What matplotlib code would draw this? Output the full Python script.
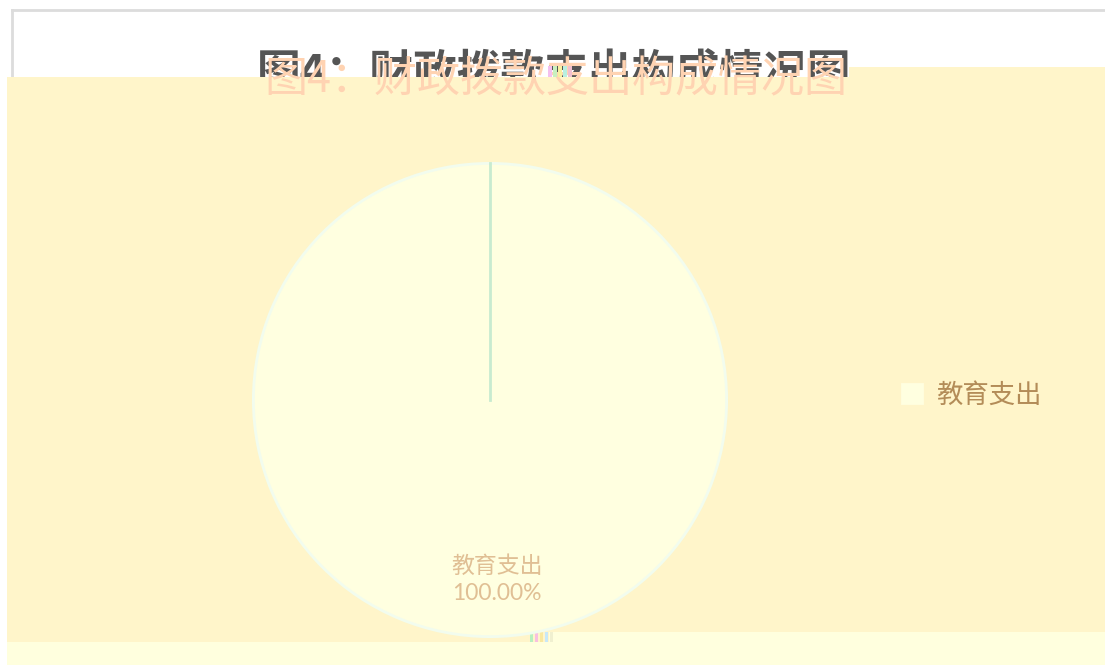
import matplotlib
matplotlib.use("Agg")
import matplotlib.pyplot as plt
from matplotlib.patches import Rectangle

plt.rcParams['font.family'] = ['Noto Sans CJK SC', 'DejaVu Sans']

# ---- data ----
title = "图4：财政拨款支出构成情况图"
categories = ["教育支出"]
values = [100.0]

W, H = 1105, 665
fig = plt.figure(figsize=(W / 100, H / 100), dpi=100)
fig.patch.set_facecolor("white")

bg = fig.add_axes([0, 0, 1, 1])
bg.set_xlim(0, W)
bg.set_ylim(H, 0)
bg.axis("off")

# frame border (light gray)
bg.plot([12, W], [10, 10], color="#dcdcdc", lw=2, zorder=1)
bg.plot([12, 12], [10, 78], color="#dcdcdc", lw=2, zorder=1)

# dark title (partially covered)
bg.text(554, 73, title, ha="center", va="center", fontsize=31.5,
        fontweight="bold", color="#555555", zorder=2)

# yellow overlay areas
bg.add_patch(Rectangle((7, 77), 843, 570, facecolor="#FFF5CA", edgecolor="none", zorder=3))
bg.add_patch(Rectangle((849, 67), W - 849, 580, facecolor="#FFF5CA", edgecolor="none", zorder=3))
# bottom light band
bg.add_patch(Rectangle((7, 642), 543, 30, facecolor="#FFFFDE", edgecolor="none", zorder=3))
bg.add_patch(Rectangle((549, 632), W - 549, 40, facecolor="#FFFFDE", edgecolor="none", zorder=3))

# faded title copy
bg.text(556, 80, title, ha="center", va="center", fontsize=31,
        fontweight="light", color="#FFD3B2", zorder=4)

# small glitch stripes
for x0, c in [(548, "#f4c0f0"), (553, "#c8f0c0"), (558, "#f8f0a0"), (563, "#b8f0e0"), (568, "#f0c0d0")]:
    bg.add_patch(Rectangle((x0, 66), 4, 11, facecolor=c, edgecolor="none", zorder=5))
for x0, c in [(530, "#b8f0c0"), (535, "#f8c0e0"), (540, "#f8e8a0"), (545, "#c8e8f8"), (550, "#f0f0d0")]:
    bg.add_patch(Rectangle((x0, 632), 3, 10, facecolor=c, edgecolor="none", zorder=5))

# pie
cx, cy, r = 490, 400, 239
pax = fig.add_axes([(cx - r) / W, 1 - (cy + r) / H, 2 * r / W, 2 * r / H])
pax.set_zorder(6)
pax.patch.set_alpha(0)
wedges, texts, autotexts = pax.pie(
    values, labels=None, colors=["#FFFFE0"], startangle=90, counterclock=False,
    autopct=lambda p: f"{categories[0]}\n{p:.2f}%", pctdistance=0.76,
    wedgeprops=dict(edgecolor="#F2FCEE", linewidth=2),
    textprops=dict(color="#E0BF94", fontsize=16.5, linespacing=1.35,
                   family=["Lato", "Noto Sans CJK SC"]),
)
for t in autotexts:
    x, y = t.get_position()
    t.set_position((x + 0.03, y))
pax.plot([0, 0], [0, 1], color="#C8EBD0", lw=2, zorder=3)
pax.set_xlim(-1.01, 1.01)
pax.set_ylim(-1.01, 1.01)
pax.axis("off")

# legend
leg = fig.legend(wedges, categories, loc="center left",
                 bbox_to_anchor=(878 / W, 1 - 395 / H), frameon=False,
                 fontsize=19, handlelength=0.75, handleheight=0.75, handletextpad=0.55)
for t in leg.get_texts():
    t.set_color("#B38C58")
for h in leg.legend_handles:
    h.set_edgecolor("#FFFFE0")
leg.set_zorder(7)

fig.savefig("out.png", dpi=100, facecolor="white")
